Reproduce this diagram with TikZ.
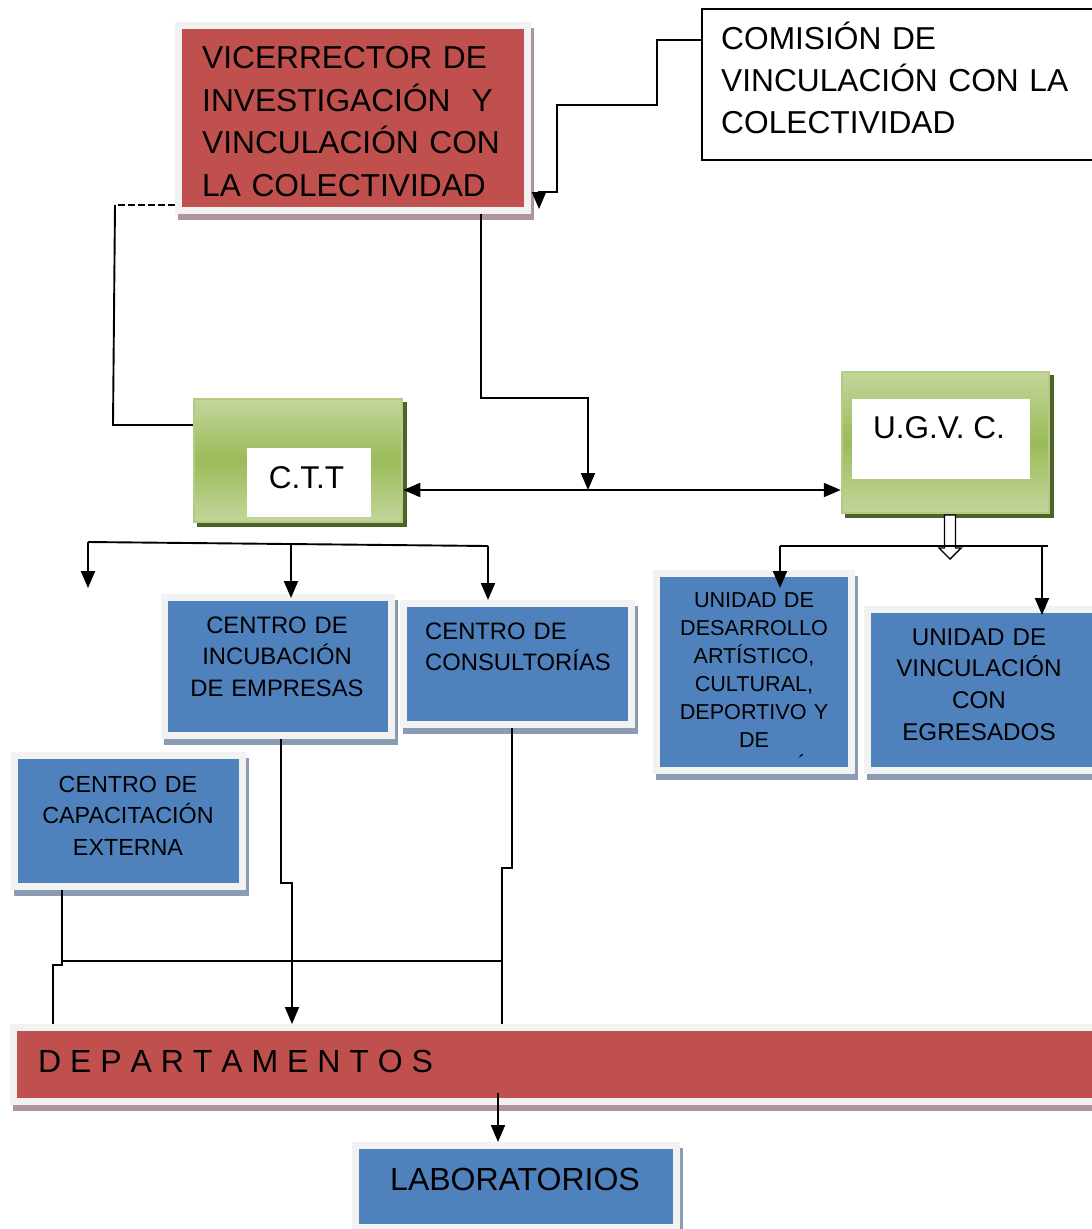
\documentclass[tikz,border=0pt]{standalone}
\usepackage{fontspec}
\setmainfont{Liberation Sans}
\usetikzlibrary{arrows.meta,backgrounds}

\definecolor{vred}{HTML}{C0504D}
\definecolor{vblue}{HTML}{4F81BD}
\definecolor{framegray}{HTML}{F2F2F2}
\definecolor{gtop}{HTML}{C3D69B}
\definecolor{gmid}{HTML}{9BBB59}
\definecolor{gedge}{HTML}{B3CB85}
\definecolor{gshade}{HTML}{4F6228}
\definecolor{rshade}{HTML}{B09499}
\definecolor{bshade}{HTML}{8C9BB4}

\newcommand\setfs[2]{\fontsize{#1}{#2}\selectfont}
% drop shadow strip behind a framed box
\newcommand\dropshade[2]{\fill[#2] ([xshift=3pt,yshift=-6pt]#1.north west) rectangle ([xshift=3pt,yshift=-6pt]#1.south east);}
\newcommand\greenshade[1]{\fill[gshade] ([xshift=4pt,yshift=-4pt]#1.north west) rectangle ([xshift=4pt,yshift=-4pt]#1.south east);}

\tikzset{
  conn/.style={line width=1.9pt, line join=miter},
  arr/.style={conn, -{Triangle[width=14pt,length=17pt]}},
  biarr/.style={conn, {Triangle[width=14pt,length=17pt]}-{Triangle[width=14pt,length=17pt]}},
  dashline/.style={conn, line width=2.2pt, dash pattern=on 7pt off 3pt},
  framebox/.style={rectangle, draw=framegray, line width=7pt, inner sep=0pt},
  redbox/.style={framebox, fill=vred},
  bluebox/.style={framebox, fill=vblue},
  greenbox/.style={rectangle, draw=gedge, line width=2.5pt, top color=gtop, bottom color=gtop, middle color=gmid, inner sep=0pt},
  whitebox/.style={rectangle, fill=white, inner sep=0pt},
  txt/.style={inner sep=0pt, text=black},
}

\begin{document}
\begin{tikzpicture}[x=1pt,y=-1pt]
\useasboundingbox (0,0) rectangle (1092,1229);
\clip (0,0) rectangle (1092,1229);

% ---------- boxes ----------
\node[redbox, minimum width=349pt, minimum height=185pt] (vic) at (353,118) {};
\node[txt, anchor=base west, text width=335pt, align=left, font=\setfs{31.7}{42.8}] (vicT) at (202,68.3)
  {VICERRECTOR DE\\INVESTIGACIÓN~~Y\\VINCULACIÓN CON\\LA COLECTIVIDAD};

\node[rectangle, draw=black, line width=1.9pt, minimum width=398pt, minimum height=151pt, inner sep=0pt] (com) at (901,84.5) {};
\node[txt, anchor=base west, text width=365pt, align=left, font=\setfs{31.7}{42}] (comT) at (721,49)
  {COMISIÓN DE\\VINCULACIÓN CON LA\\COLECTIVIDAD};

\node[greenbox, minimum width=208pt, minimum height=123pt] (ctt) at (298,460.5) {};
\node[whitebox, minimum width=124pt, minimum height=69pt] (cttW) at (309,482.5) {};
\node[txt, anchor=base, font=\setfs{31.5}{36}] (cttT) at (306.5,488) {C.T.T};

\node[greenbox, minimum width=207pt, minimum height=141pt] (ugv) at (945.5,442.5) {};
\node[whitebox, minimum width=178pt, minimum height=80pt] (ugvW) at (941,439) {};
\node[txt, anchor=base, font=\setfs{31.5}{36}] (ugvT) at (939,438) {U.G.V. C.};

\node[bluebox, minimum width=227pt, minimum height=138pt] (inc) at (278,666.5) {};
\node[txt, anchor=base, text width=220pt, align=center, font=\setfs{23.8}{31.5}] (incT) at (277,633)
  {CENTRO DE\\INCUBACIÓN\\DE EMPRESAS};

\node[bluebox, minimum width=228pt, minimum height=121pt] (con) at (517.5,664) {};
\node[txt, anchor=base west, text width=210pt, align=left, font=\setfs{23.8}{31}] (conT) at (425,639)
  {CENTRO DE\\CONSULTORÍAS};

\node[bluebox, minimum width=228pt, minimum height=131pt] (cap) at (128.5,821) {};
\node[txt, anchor=base, text width=220pt, align=center, font=\setfs{23.3}{31.5}] (capT) at (128,792)
  {CENTRO DE\\CAPACITACIÓN\\EXTERNA};

\node[bluebox, minimum width=195pt, minimum height=197pt] (des) at (754,672) {};
\node[txt, anchor=base, text width=185pt, align=center, font=\setfs{21.6}{28}] (desT) at (754,607)
  {UNIDAD DE\\DESARROLLO\\ARTÍSTICO,\\CULTURAL,\\DEPORTIVO Y\\DE};
\node[txt, anchor=north, font=\setfs{21.6}{28}] (desA) at (802,754) {´};

\node[bluebox, minimum width=237.5pt, minimum height=161pt] (vin) at (986.25,690) {};
\node[txt, anchor=base, text width=220pt, align=center, font=\setfs{24.2}{31.7}] (vinT) at (979,645)
  {UNIDAD DE\\VINCULACIÓN\\CON\\EGRESADOS};

\node[redbox, minimum width=1093pt, minimum height=74pt] (dep) at (560,1064.5) {};
\node[txt, anchor=base west, font=\setfs{32}{36}] (depT) at (38,1072) {D E P A R T A M E N T O S};

\node[bluebox, minimum width=320.5pt, minimum height=82pt] (lab) at (515.75,1186.5) {};
\node[txt, anchor=base, font=\setfs{32}{36}] (labT) at (515,1190) {LABORATORIOS};

% ---------- shadows and page ----------
\begin{scope}[on background layer]
  \fill[white] (0,0) rectangle (1092,1229);
  \dropshade{vic}{rshade}
  \dropshade{dep}{rshade}
  \dropshade{inc}{bshade}
  \dropshade{con}{bshade}
  \dropshade{cap}{bshade}
  \dropshade{des}{bshade}
  \dropshade{vin}{bshade}
  \dropshade{lab}{bshade}
  \greenshade{ctt}
  \greenshade{ugv}
\end{scope}

% ---------- connectors ----------
% Vicerrector to C.T.T.
\coordinate (dA) at (115,205);
\coordinate (dB) at (113,425);
\draw[dashline] (vic.west |- dA) -- (dA);
\draw[conn] (dA) -- (dB) -- (ctt.west |- dB);

% Vicerrector down to the C.T.T. / U.G.V.C. link
\coordinate (vA) at (481,398);
\coordinate (jn) at (588,490);
\draw[arr] (vic.south -| vA) -- (vA) -- (vA -| jn) -- (jn);
\draw[biarr] (ctt.east |- jn) -- (ugv.west |- jn);

% Comisión to Vicerrector
\coordinate (c1) at (657,40);
\coordinate (cA) at (539,209);
\draw[arr] (com.west |- c1) -- (c1) -- (657,105) -- (557,105) -- (557,192) -- (539,192) -- (cA);

% C.T.T. branch
\coordinate (b1) at (88,542);
\coordinate (b2) at (488,546);
\coordinate (bM) at (291,544);
\coordinate (bL) at (88,588);
\draw[conn] (b1) -- (b2);
\draw[arr] (b1) -- (bL);
\draw[arr, shorten >=-4pt] (bM) -- (bM |- inc.north);
\draw[arr] (b2) -- (b2 |- con.north);

% U.G.V.C. branch
\draw[line width=1.4pt, fill=white] (944.5,515) -- (955.5,515) -- (955.5,548) -- (961,548)
  -- (950,559) -- (939,548) -- (944.5,548) -- cycle;
\coordinate (u1) at (780,546);
\coordinate (u2) at (1048,546);
\coordinate (uD) at (780,588);
\coordinate (uV) at (1042,615);
\draw[conn] (u1) -- (u2);
\draw[arr] (u1) -- (uD);
\draw[arr] (uV |- u1) -- (uV);

% centres down to Departamentos
\coordinate (i1) at (281,883);
\coordinate (i2) at (292,883);
\draw[arr] (inc.south -| i1) -- (i1) -- (i2) -- (i2 |- dep.north);
\coordinate (k1) at (512,868);
\coordinate (k2) at (502,868);
\draw[conn] (con.south -| k1) -- (k1) -- (k2) -- (k2 |- dep.north);
\coordinate (p1) at (62,965);
\coordinate (p2) at (53,965);
\draw[conn] (cap.south -| p1) -- (p1) -- (p2) -- (p2 |- dep.north);
\coordinate (h1) at (62,961);
\coordinate (h2) at (501,961);
\draw[conn] (h1) -- (h2);

% Departamentos to Laboratorios
\coordinate (dL) at (498,1093);
\draw[arr] (dL) -- (dL |- lab.north);
\end{tikzpicture}
\end{document}
